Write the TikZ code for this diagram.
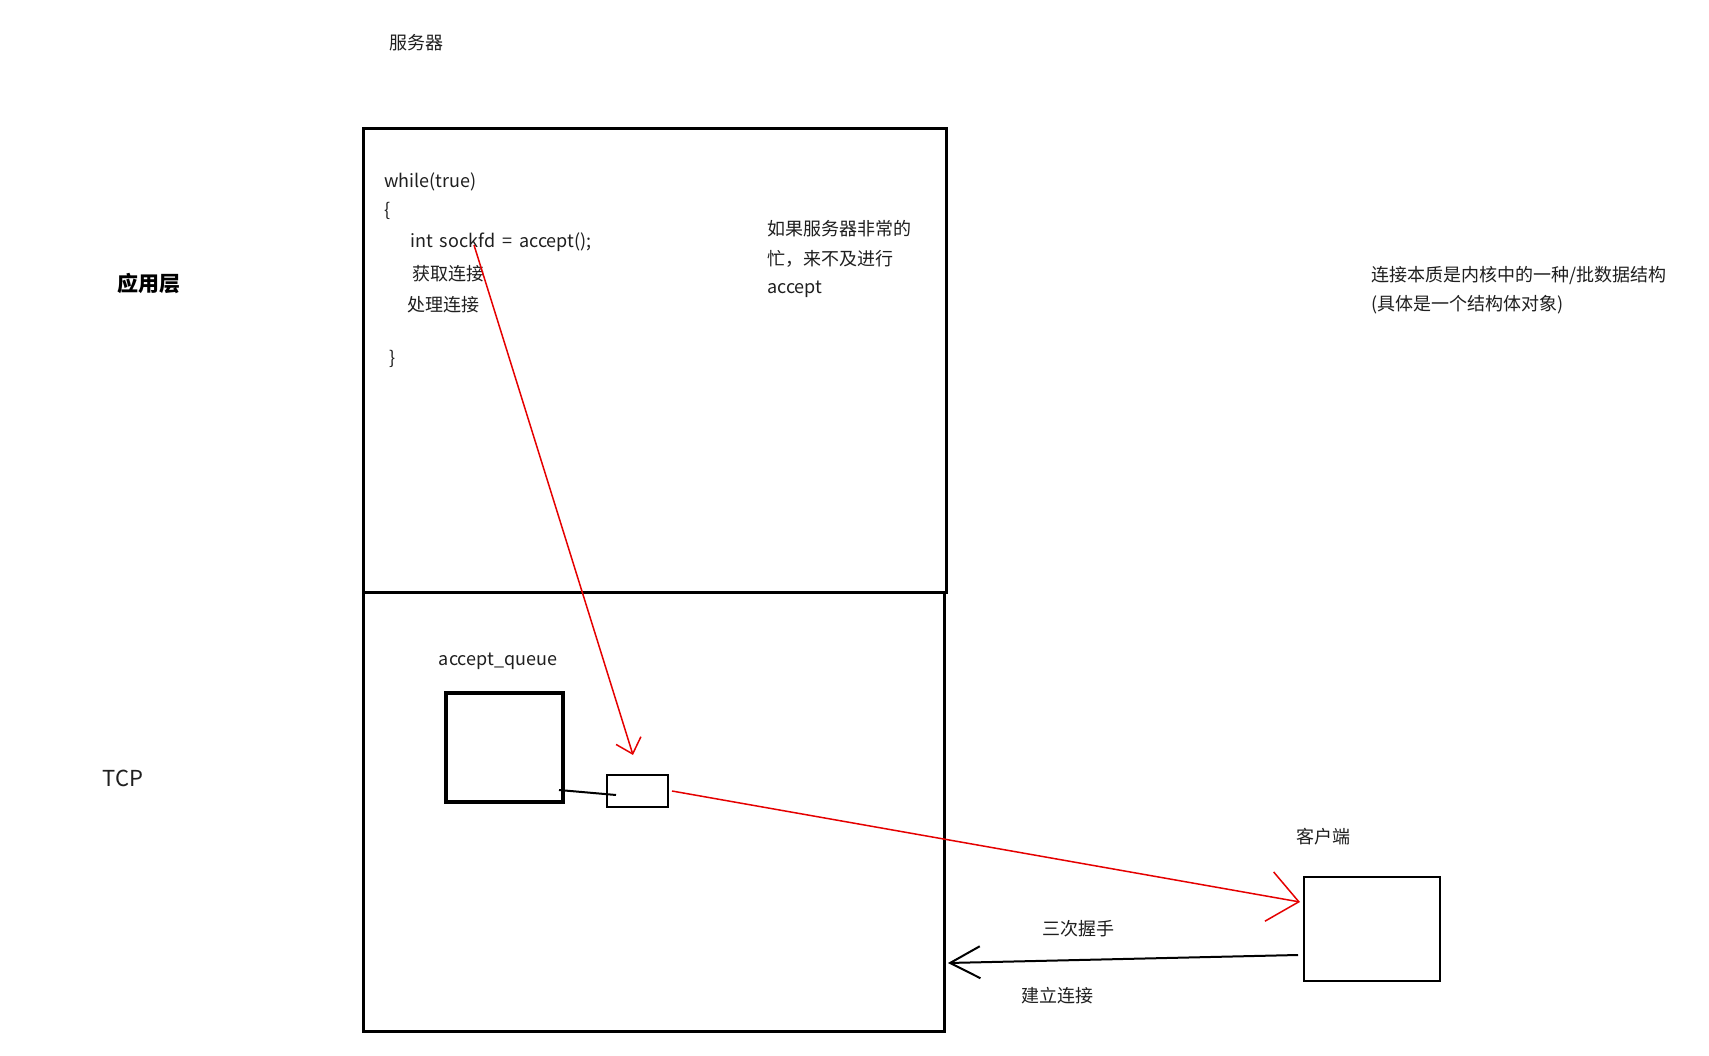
\documentclass[tikz,border=0pt]{standalone}
\usepackage{fontspec}
\setmainfont{Noto Sans CJK SC}
\usetikzlibrary{arrows.meta}
\begin{document}
\begin{tikzpicture}[x=1pt,y=-1pt,
  box/.style={draw, inner sep=0pt, line width=3pt},
  thinbox/.style={draw, inner sep=0pt, line width=2pt},
  txt/.style={font=\fontsize{18}{22}\selectfont, inner sep=0pt, anchor=west, text=black!88},
  ctxt/.style={font=\fontsize{18}{22}\selectfont, inner sep=0pt, text=black!88},
  redline/.style={draw=red!90!black, line width=1.5pt},
  blackline/.style={draw=black, line width=2pt}]
\useasboundingbox[fill=white] (0,0) rectangle (1709,1056);

% boxes
\node[box, minimum width=583pt, minimum height=463pt] (app) at (654.5,360.5) {};
\node[box, minimum width=581pt, minimum height=439pt] (tcp) at (653.5,811.5) {};
\node[box, line width=3.5pt, minimum width=117pt, minimum height=109pt] (queue) at (504.5,747.5) {};
\node[thinbox, minimum width=61pt, minimum height=32pt] (small) at (637.5,791) {};
\node[thinbox, minimum width=136pt, minimum height=104pt] (client) at (1372,929) {};

% texts
\node[ctxt] (server) at (416,43) {服务器};
\node[ctxt, font=\fontsize{21}{25}\selectfont\bfseries, text=black] (applayer) at (149,284) {应用层};
\node[ctxt, font=\fontsize{22}{26}\selectfont] (tcplabel) at (123,778) {TCP};
\node[txt] (l1) at (384,182) {while(true)};
\node[txt] (l2) at (384,211) {\{};
\node[txt] (l3) at (410,242) {int\hspace{3pt} sockfd\hspace{3pt} =\hspace{3pt} accept();};
\node[txt] (l4) at (412,274) {获取连接};
\node[txt] (l5) at (407,305) {处理连接};
\node[txt] (l6) at (389,359) {\}};
\node[txt] (b1) at (767,229) {如果服务器非常的};
\node[txt] (b2) at (767,259) {忙，来不及进行};
\node[txt] (b3) at (767,289) {accept};
\node[ctxt] (aq) at (498,661) {accept\_queue};
\node[ctxt] (cl) at (1323,837) {客户端};
\node[ctxt] (hs) at (1078,929) {三次握手};
\node[ctxt] (est) at (1057,996) {建立连接};
\node[txt] (n1) at (1371,276) {连接本质是内核中的一种/批数据结构};
\node[txt] (n2) at (1371,305) {(具体是一个结构体对象)};

% connector end points
\coordinate (s1) at (474,245);
\coordinate (t1) at (633,755);
\coordinate (qa) at (559,790);
\coordinate (qb) at (616,795);
\coordinate (s2) at (672,791);
\coordinate (t2) at (1300,902);
\coordinate (s3) at (1298,955);
\coordinate (t3) at (948,963);

% connectors
\draw[redline, -{Straight Barb[length=14pt, width=26pt, line width=1.5pt]}] (s1) -- (t1);
\draw[blackline] (qa) -- (qb);
\draw[redline, -{Straight Barb[length=30pt, width=50pt, line width=1.5pt]}] (s2) -- (t2);
\draw[blackline, -{Straight Barb[length=30pt, width=32pt, line width=2pt]}] (s3) -- (t3);
\end{tikzpicture}
\end{document}
